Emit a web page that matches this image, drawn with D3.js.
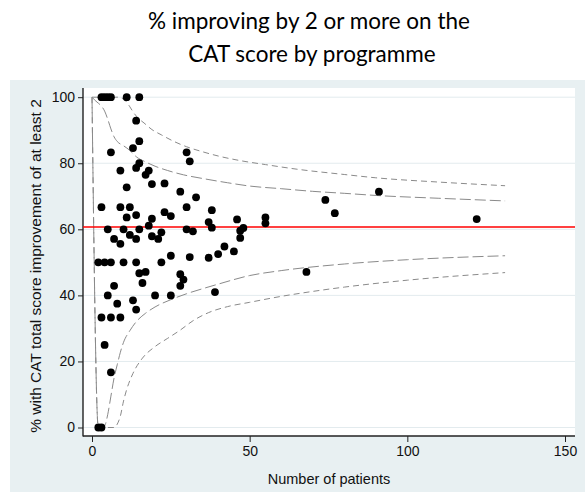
<!doctype html>
<html>
<head>
<meta charset="utf-8">
<script type='text/javascript' src='https://d3js.org/d3.v7.min.js'></script>
<style>
body { margin:0; background:#fff; }
</style>
</head>
<body>
<script>
var width = 585, height = 492;

// programmes: number of patients and % improving by 2 or more
var nPatients = [3,4,5,6,11,15, 14,15,13,6,30,31,15,14,9,18,17,23,19,11,28,91,33,74,
  3,9,12,30, 38,23,77,14,25, 11,55,19,122,46,37,55,18,38,48, 5,10,15,30, 47,32,22,12,19,47,
  7,14,21, 9,42,45,40,25,31,37, 2,4,6,10,14,22, 17,68,15,28,29,16,7,28,39, 5,20,25, 13,8,14,
  3,6,9, 4,6, 2,3];
var pctImproved = [100,100,100,100,100,100, 92.9,86.7,84.6,83.3,83.3,80.6,80,78.6,77.8,77.8,76.5,73.9,73.7,72.7,71.4,71.4,69.7,68.9,
  66.7,66.7,66.7,66.7, 65.8,65.2,64.9,64.3,64, 63.6,63.6,63.2,63.1,63.0,62.2,61.8,61.1,60.5,60.4, 60,60,60,60, 59.6,59.4,59.1,58.3,57.9,57.4,
  57.1,57.1,57.1, 55.6,54.8,53.3,52.5,52,51.6,51.4, 50,50,50,50,50,50, 47.1,47.1,46.7,46.4,44.8,43.75,42.9,42.9,41.0, 40,40,40, 38.5,37.5,35.7,
  33.3,33.3,33.3, 25,16.7, 0,0];

// overall mean
var meanPct = 60.7;

// funnel limits (n, %)
var hi95N = [0,1,2,3,4,5,6,7,8,10,12,14,17,20,24,29,35,43,50,60,70,80,91,110,131];
var hi95V = [100,99,98.2,97.3,95.8,93.3,90.4,88,86.6,85.3,83.9,82,80.4,79.1,77.8,76.5,75.4,74.1,73.1,72.3,71.5,70.9,70.2,69.4,68.6];
var lo95N = [0,2,3,4,5,6,7,8,9,10,12,14,17,20,25,30,35,40,50,60,80,100,131];
var lo95V = [100,0,0,0.5,4,9.5,15,19,22.8,25.8,29.3,32,34.6,36.5,38.7,40.5,42,43.4,46,47.5,49.5,50.8,52];
var hi998N = [0,8,10,11,12,13,14.5,16.5,19,22,26,30,35,40,47,55,65,80,90,110,131];
var hi998V = [100,100,99.4,98.5,97.1,95.6,93.8,92.2,90.2,88.6,86.6,85,83.5,82.2,80.8,79.6,78.2,76.6,75.6,74.3,73.2];
var lo998N = [0,2,7,8,9,10,11,13,16,20,24,28,32,37,43,50,60,70,80,100,131];
var lo998V = [100,0,0,1,3.5,8,11.5,16.4,21,24.5,27,29.5,32.3,34.8,36.6,37.9,39.7,41.2,42.5,44.6,46.9];

var xTicks = [0,50,100,150];
var yTicks = [0,20,40,60,80,100];

var svg = d3.select('body').append('svg').attr('width',width).attr('height',height)
  .style('font-family','"Liberation Sans", Arial, sans-serif');

// title
var title = svg.append('text').attr('text-anchor','middle')
  .style('font-family','Lato, "Open Sans", sans-serif').style('font-size','22.5px').attr('fill','#000');
title.append('tspan').attr('x',309).attr('y',29).text('% improving by 2 or more on the');
title.append('tspan').attr('x',312).attr('y',62).text('CAT score by programme');

// graph panel
svg.append('rect').attr('x',10).attr('y',80).attr('width',width-10).attr('height',height-80).attr('fill','#e8f0f2');
var pLeft = 83, pRight = 575, pTop = 88, pBottom = 436;
svg.append('rect').attr('x',pLeft).attr('y',pTop).attr('width',pRight-pLeft).attr('height',pBottom-pTop).attr('fill','#fff');

var x = d3.scaleLinear().domain([0,150]).range([92,565]);
var y = d3.scaleLinear().domain([0,100]).range([427.5,97.2]);

// gridlines
svg.append('g').selectAll('line').data(yTicks).join('line')
  .attr('x1',pLeft).attr('x2',pRight)
  .attr('y1',function(d){return y(d)}).attr('y2',function(d){return y(d)})
  .attr('stroke','#e3ebee').attr('stroke-width',1);

// axes
var yAxis = svg.append('g').attr('transform','translate('+pLeft+',0)')
  .call(d3.axisLeft(y).tickValues(yTicks).tickSize(5).tickPadding(3));
var xAxis = svg.append('g').attr('transform','translate(0,'+pBottom+')')
  .call(d3.axisBottom(x).tickValues(xTicks).tickSize(6).tickPadding(4));
[yAxis,xAxis].forEach(function(a){
  a.select('.domain').remove();
  a.selectAll('text').style('font-size','14px').style('font-family','"Liberation Sans", Arial, sans-serif').attr('fill','#111');
  a.selectAll('line').attr('stroke','#222');
});
svg.append('line').attr('x1',pLeft).attr('x2',pLeft).attr('y1',pTop).attr('y2',pBottom+0.5).attr('stroke','#222').attr('stroke-width',1.4);
svg.append('line').attr('x1',pLeft).attr('x2',pRight).attr('y1',pBottom).attr('y2',pBottom).attr('stroke','#222').attr('stroke-width',1.4);

// axis titles
svg.append('text').attr('x',(pLeft+pRight)/2).attr('y',484).attr('text-anchor','middle')
  .style('font-size','14.5px').attr('fill','#111').text('Number of patients');
svg.append('text').attr('transform','translate(41,266) rotate(-90)').attr('text-anchor','middle')
  .style('font-size','15.5px').attr('fill','#111').text('% with CAT total score improvement of at least 2');

// funnel limits
var line = d3.line().x(function(d){return x(d[0])}).y(function(d){return y(d[1])}).curve(d3.curveMonotoneX);
function limit(ns, vs, dash) {
  svg.append('path').datum(d3.zip(ns, vs)).attr('d', line)
    .attr('fill','none').attr('stroke','#8a8a8a').attr('stroke-width',1)
    .attr('stroke-dasharray', dash);
}
limit(hi998N, hi998V, '6,4');
limit(lo998N, lo998V, '6,4');
limit(hi95N, hi95V, '11,4');
limit(lo95N, lo95V, '11,4');

// mean line
svg.append('line').attr('x1',pLeft).attr('x2',pRight).attr('y1',y(meanPct)).attr('y2',y(meanPct))
  .attr('stroke','#ff0000').attr('stroke-width',1.5);

// programmes
svg.append('g').selectAll('circle').data(d3.zip(nPatients, pctImproved)).join('circle')
  .attr('cx',function(d){return x(d[0])}).attr('cy',function(d){return y(d[1])})
  .attr('r',3.9).attr('fill','#000');
</script>
</body>
</html>
